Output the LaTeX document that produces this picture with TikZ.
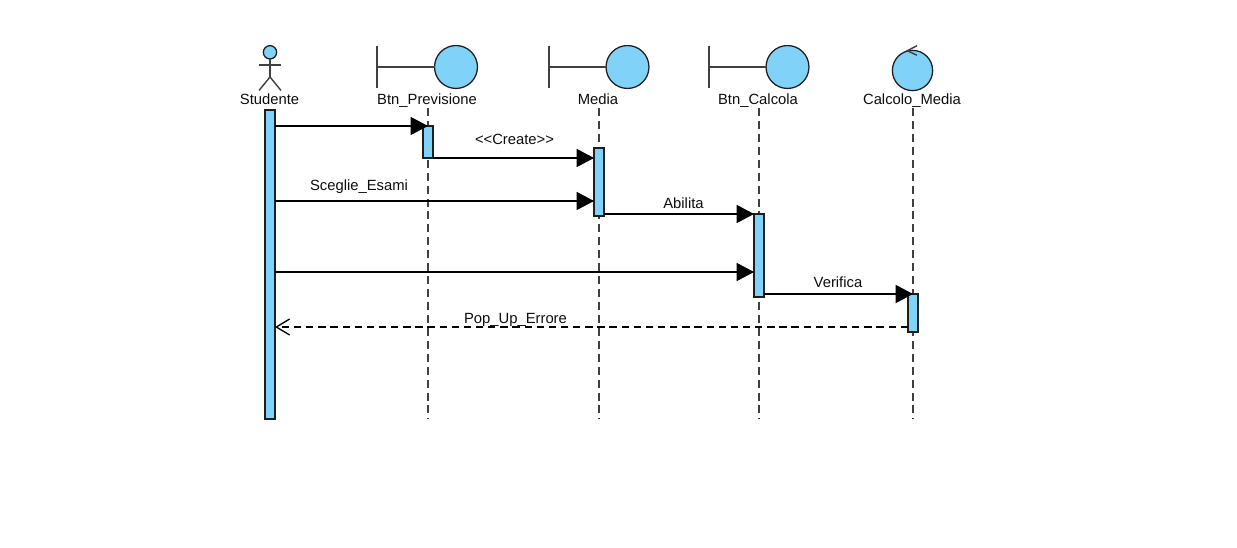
\documentclass[tikz,border=0pt]{standalone}
\usepackage{fontspec}
\setmainfont{Liberation Sans}
\usetikzlibrary{arrows.meta,calc}
\definecolor{umlblue}{RGB}{128,210,248}
\definecolor{umlline}{RGB}{30,30,30}
\tikzset{
  x=0.75pt,y=-0.75pt,
  bar/.style={draw=umlline,fill=umlblue,line width=1pt,minimum width=7.5pt,inner sep=0pt,outer sep=0pt},
  lifeline/.style={draw=umlline!85!white,line width=1.1pt,dash pattern=on 6pt off 3.7pt},
  msg/.style={draw=black,line width=1.1pt,-{Triangle[length=13pt,width=13.5pt,fill=black]}},
  ret/.style={draw=black,line width=1.1pt,dash pattern=on 5.5pt off 3.6pt,-{Straight Barb[length=10pt,width=12pt,line width=1pt]}},
  lbl/.style={font=\fontsize{11.1pt}{13pt}\selectfont,inner sep=0pt,text=black!95,anchor=base},
  ball/.style={draw=umlline,fill=umlblue,line width=0.95pt,circle,inner sep=0pt,outer sep=0pt},
  stem/.style={draw=umlline!85!white,line width=1.05pt},
}
\begin{document}
\begin{tikzpicture}
\useasboundingbox (0,0) rectangle (1237,548);
% actor
\node[ball,minimum size=10pt] (head) at (270,52.3) {};
\coordinate (hip) at (270,77);
\coordinate (armL) at (259,65);
\coordinate (armR) at (281,65);
\coordinate (legL) at (259,90.5);
\coordinate (legR) at (281,90.5);
\draw[stem] (head.south) -- (hip);
\draw[stem] (armL) -- (armR);
\draw[stem] (legL) -- (hip) -- (legR);
\node[lbl] (tStudente) at (269.5,105) {Studente};
% boundary objects
\begin{scope}
\clip (370,46) rectangle (820,92);
\node[ball,minimum size=32.2pt] (bPrev) at (456,67) {};
\node[ball,minimum size=32.2pt] (bMedia) at (627.5,67) {};
\node[ball,minimum size=32.2pt] (bCalc) at (787.5,67) {};
\end{scope}
\coordinate (vPrevT) at (377,46); \coordinate (vPrevB) at (377,88); \coordinate (vPrevM) at (377,67);
\coordinate (vMedT) at (549,46); \coordinate (vMedB) at (549,88); \coordinate (vMedM) at (549,67);
\coordinate (vCalT) at (709,46); \coordinate (vCalB) at (709,88); \coordinate (vCalM) at (709,67);
\draw[stem] (vPrevT) -- (vPrevB);
\draw[stem] (vPrevM) -- (bPrev.west);
\draw[stem] (vMedT) -- (vMedB);
\draw[stem] (vMedM) -- (bMedia.west);
\draw[stem] (vCalT) -- (vCalB);
\draw[stem] (vCalM) -- (bCalc.west);
\node[lbl] (tPrev) at (427,105) {Btn\_Previsione};
\node[lbl] (tMedia) at (598,105) {Media};
\node[lbl] (tCalc) at (758,105) {Btn\_Calcola};
% control object
\node[ball,minimum size=30.2pt] (ctrl) at (912.5,70.5) {};
\coordinate (cTip) at (907.3,50.7);
\coordinate (cA) at (917,45.7);
\coordinate (cB) at (917,55.3);
\draw[stem] (cA) -- (cTip) -- (cB);
\node[lbl] (tCtrl) at (912,105) {Calcolo\_Media};
% lifelines ends
\coordinate (lPrevT) at (428,108); \coordinate (lPrevB) at (428,419);
\coordinate (lMedT) at (599,108); \coordinate (lMedB) at (599,419);
\coordinate (lCalT) at (759,108); \coordinate (lCalB) at (759,419);
\coordinate (lCtrT) at (913,108); \coordinate (lCtrB) at (913,419);
\draw[lifeline] (lPrevT) -- (lPrevB);
\draw[lifeline] (lMedT) -- (lMedB);
\draw[lifeline] (lCalT) -- (lCalB);
\draw[lifeline] (lCtrT) -- (lCtrB);
% activation bars
\node[bar,minimum height=231.75pt] (aStu) at (270,264.5) {};
\node[bar,minimum height=24pt] (aPrev) at (428,142) {};
\node[bar,minimum height=51pt] (aMedia) at (599,182) {};
\node[bar,minimum height=62.25pt] (aCalc) at (759,255.5) {};
\node[bar,minimum height=28.5pt] (aCtrl) at (913,313) {};
% messages
\draw[msg] (aStu.east |- aPrev.north) -- (aPrev.north);
\draw[msg] (aPrev.south east) -- (aPrev.south east -| aMedia.west);
\coordinate (y201) at (0,201);
\coordinate (y272) at (0,272);
\coordinate (y327) at (0,327);
\draw[msg] (aStu.east |- y201) -- (aMedia.west |- y201);
\draw[msg] (aMedia.east |- aCalc.north) -- (aCalc.north west);
\draw[msg] (aStu.east |- y272) -- (aCalc.west |- y272);
\draw[msg] (aCalc.east |- aCtrl.north) -- (aCtrl.north);
\draw[ret] (aCtrl.west |- y327) -- (aStu.east |- y327);
% message labels
\node[lbl] (mCreate) at (514.5,144.5) {<{}<Create>{}>};
\node[lbl] (mScegli) at (359,190.5) {Sceglie\_Esami};
\node[lbl] (mAbilita) at (683.5,208.5) {Abilita};
\node[lbl] (mVerifica) at (838,287.5) {Verifica};
\node[lbl] (mPop) at (515.5,323.5) {Pop\_Up\_Errore};
\end{tikzpicture}
\end{document}
